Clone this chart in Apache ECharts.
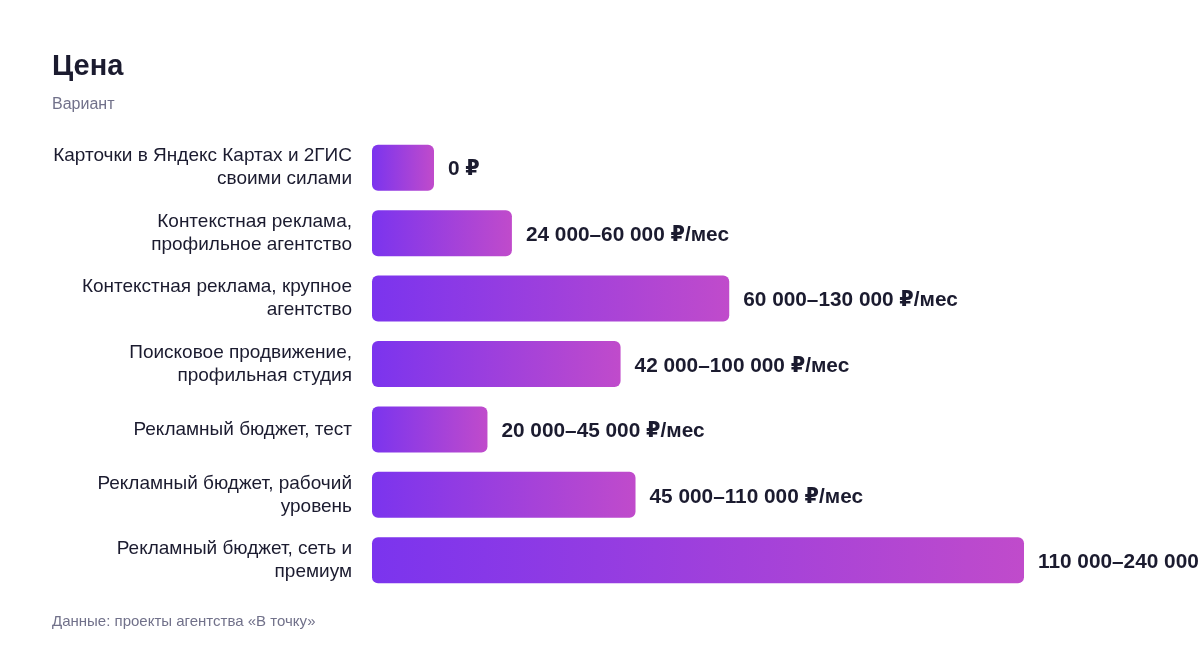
<!DOCTYPE html>
<html>
<head>
<meta charset="utf-8">
<script src="https://cdn.jsdelivr.net/npm/echarts@6/dist/echarts.min.js"></script>
<style>
  html, body { margin: 0; padding: 0; background: #fff; }
  #chart { width: 1200px; height: 648px; }
</style>
</head>
<body>
<div id="chart"></div>
<script>
// варианты (сверху вниз)
var categories = [
    'Карточки в Яндекс Картах и 2ГИС\nсвоими силами',
    'Контекстная реклама,\nпрофильное агентство',
    'Контекстная реклама, крупное\nагентство',
    'Поисковое продвижение,\nпрофильная студия',
    'Рекламный бюджет, тест',
    'Рекламный бюджет, рабочий\nуровень',
    'Рекламный бюджет, сеть и\nпремиум'
];
// длина полосы, тыс. ₽/мес (оценка по картинке)
var values = [0, 51.5, 131.5, 91.5, 42.5, 97, 240];
var priceLabels = [
    '0 ₽',
    '24 000–60 000 ₽/мес',
    '60 000–130 000 ₽/мес',
    '42 000–100 000 ₽/мес',
    '20 000–45 000 ₽/мес',
    '45 000–110 000 ₽/мес',
    '110 000–240 000 ₽/мес'
];

var textColor = '#1b1b2f';
var mutedColor = '#71718a';
var font = '"Liberation Sans", Arial, "DejaVu Sans", sans-serif';

var chart = echarts.init(document.getElementById('chart'));
chart.setOption({
    animation: false,
    textStyle: { fontFamily: font },
    title: [
        {
            text: 'Цена',
            left: 47,
            top: 47,
            textStyle: { fontSize: 29, fontWeight: 'bold', color: textColor, fontFamily: font }
        },
        {
            text: 'Вариант',
            left: 47,
            top: 92,
            textStyle: { fontSize: 16, fontWeight: 'normal', color: mutedColor, fontFamily: font }
        },
        {
            text: 'Данные: проекты агентства «В точку»',
            left: 47,
            top: 609,
            textStyle: { fontSize: 15, fontWeight: 'normal', color: mutedColor, fontFamily: font }
        }
    ],
    grid: {
        left: 372,
        right: 176,
        top: 135,
        bottom: 55
    },
    xAxis: {
        type: 'value',
        min: 0,
        max: 240,
        show: false
    },
    yAxis: {
        type: 'category',
        inverse: true,
        data: categories,
        axisLine: { show: false },
        axisTick: { show: false },
        axisLabel: {
            margin: 20,
            fontSize: 19,
            lineHeight: 23,
            padding: [4, 0, 0, 0],
            color: textColor,
            fontFamily: font
        }
    },
    series: [{
        type: 'bar',
        data: values,
        barWidth: 46,
        barMinHeight: 62,
        itemStyle: {
            borderRadius: 6,
            color: new echarts.graphic.LinearGradient(0, 0, 1, 0, [
                { offset: 0, color: '#7b34ee' },
                { offset: 1, color: '#c04bcb' }
            ])
        },
        label: {
            show: true,
            position: 'right',
            distance: 14,
            offset: [0, 2],
            fontSize: 20.8,
            fontWeight: 'bold',
            color: textColor,
            fontFamily: font,
            formatter: function (p) {
                return priceLabels[p.dataIndex];
            }
        }
    }]
});
</script>
</body>
</html>
